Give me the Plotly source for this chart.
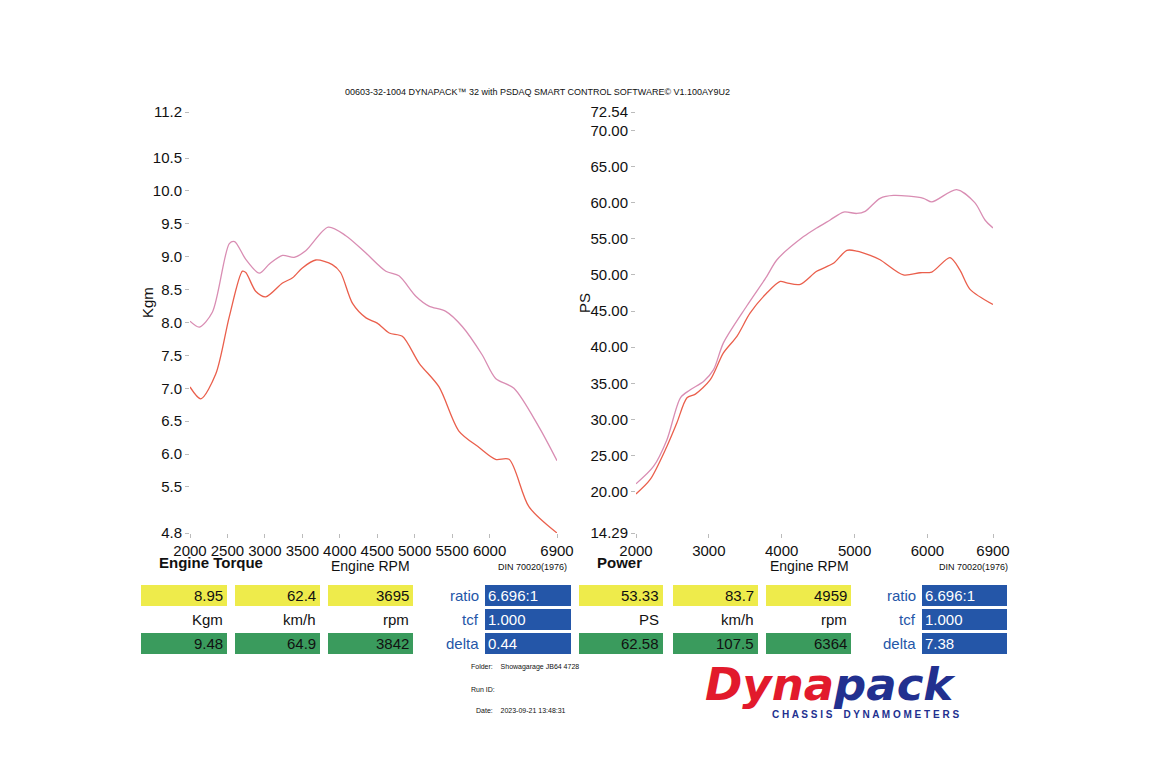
import plotly.graph_objects as go

W, H = 1150, 765

# torque (Kgm) vs rpm
tq_hi_rpm = [2000, 2125, 2300, 2525, 2595, 2745, 2925, 3060, 3235, 3390, 3545, 3845, 4080, 4345,
             4615, 4790, 5015, 5190, 5415, 5635, 5900, 6080, 6325, 6660, 6900]
tq_hi = [8.02, 7.93, 8.16, 9.2, 9.23, 8.96, 8.75, 8.89, 9.02, 8.99, 9.09, 9.45, 9.32, 9.06,
         8.78, 8.71, 8.40, 8.25, 8.17, 7.94, 7.51, 7.15, 7.0, 6.41, 5.9]
tq_lo_rpm = [2000, 2145, 2345, 2525, 2700, 2745, 2880, 3010, 3235, 3370, 3500, 3680, 3900, 4010,
             4170, 4350, 4500, 4660, 4835, 5060, 5325, 5590, 5860, 6080, 6260, 6525, 6900]
tq_lo = [7.02, 6.84, 7.22, 8.09, 8.78, 8.76, 8.47, 8.39, 8.60, 8.68, 8.83, 8.95, 8.88, 8.76,
         8.29, 8.07, 7.99, 7.84, 7.79, 7.38, 7.02, 6.35, 6.10, 5.92, 5.92, 5.2, 4.8]

# power (PS) vs rpm
pw_hi_rpm = [2000, 2240, 2425, 2610, 2745, 2930, 3065, 3200, 3520, 3795, 3935, 4300, 4480, 4665,
             4850, 5030, 5145, 5350, 5535, 5945, 6060, 6400, 6650, 6790, 6900]
pw_hi = [21.1, 23.5, 27.2, 33.0, 34.1, 35.3, 36.9, 40.6, 45.7, 49.8, 52.1, 55.3, 56.5, 57.6,
         58.7, 58.5, 58.8, 60.6, 61.0, 60.6, 60.1, 61.8, 60.0, 57.6, 56.5]
pw_lo_rpm = [2000, 2195, 2425, 2560, 2700, 2815, 3020, 3200, 3385, 3565, 3795, 3980, 4070, 4255,
             4480, 4710, 4895, 5030, 5215, 5350, 5670, 5900, 6060, 6310, 6445, 6585, 6900]
pw_lo = [19.7, 21.7, 26.3, 29.5, 33.0, 33.5, 35.5, 39.2, 41.5, 44.7, 47.5, 49.1, 48.9, 48.7,
         50.5, 51.6, 53.4, 53.3, 52.7, 52.1, 50.0, 50.3, 50.4, 52.4, 50.7, 48.0, 45.9]

tq_xticks = [2000, 2500, 3000, 3500, 4000, 4500, 5000, 5500, 6000, 6900]
tq_yticks = [4.8, 5.5, 6.0, 6.5, 7.0, 7.5, 8.0, 8.5, 9.0, 9.5, 10.0, 10.5, 11.2]
pw_xticks = [2000, 3000, 4000, 5000, 6000, 6900]
pw_yticks = [14.29, 20, 25, 30, 35, 40, 45, 50, 55, 60, 65, 70, 72.54]

tq_vals = ["8.95", "62.4", "3695"]
tq_units = ["Kgm", "km/h", "rpm"]
tq_delta_vals = ["9.48", "64.9", "3842"]
tq_side = ["6.696:1", "1.000", "0.44"]
pw_vals = ["53.33", "83.7", "4959"]
pw_units = ["PS", "km/h", "rpm"]
pw_delta_vals = ["62.58", "107.5", "6364"]
pw_side = ["6.696:1", "1.000", "7.38"]
side_names = ["ratio", "tcf", "delta"]

PINK = "#d98db3"
RED = "#ea5f4c"
YEL = "#eeeb4b"
GRN = "#3a9b5d"
BLU = "#2456a8"
FONT = "Liberation Sans, Arial"
NARROW = "Liberation Sans Narrow, Liberation Sans"

# page puts the plot 8px in from the corner, so pull everything back
OFF = 8


def px(x):
    return (x - OFF) / W


def py(y):
    return 1 - (y - OFF) / H


fig = go.Figure()
line = dict(shape="spline", smoothing=0.8, width=1.3)
fig.add_trace(go.Scatter(x=tq_hi_rpm, y=tq_hi, mode="lines", line=dict(color=PINK, **line), xaxis="x", yaxis="y"))
fig.add_trace(go.Scatter(x=tq_lo_rpm, y=tq_lo, mode="lines", line=dict(color=RED, **line), xaxis="x", yaxis="y"))
fig.add_trace(go.Scatter(x=pw_hi_rpm, y=pw_hi, mode="lines", line=dict(color=PINK, **line), xaxis="x2", yaxis="y2"))
fig.add_trace(go.Scatter(x=pw_lo_rpm, y=pw_lo, mode="lines", line=dict(color=RED, **line), xaxis="x2", yaxis="y2"))

ax = dict(showgrid=False, zeroline=False, showline=False, ticks="outside", ticklen=4,
          tickcolor="#bbbbbb", tickfont=dict(size=15, family=FONT, color="#111"))
fig.update_layout(
    width=W, height=H, margin=dict(l=0, r=0, t=0, b=0, autoexpand=False),
    paper_bgcolor="white", plot_bgcolor="white", showlegend=False,
    font=dict(family=FONT, color="#111"),
    xaxis=dict(domain=[px(190), px(557)], range=[2000, 6900], tickvals=tq_xticks, anchor="y", **ax),
    yaxis=dict(domain=[py(533), py(112)], range=[4.8, 11.2], tickvals=tq_yticks,
               ticktext=[f"{v:.1f}" for v in tq_yticks], anchor="x", **ax),
    xaxis2=dict(domain=[px(636), px(993)], range=[2000, 6900], tickvals=pw_xticks, anchor="y2", **ax),
    yaxis2=dict(domain=[py(533), py(112)], range=[14.29, 72.54], tickvals=pw_yticks,
                ticktext=[f"{v:.2f}" for v in pw_yticks], anchor="x2", **ax),
)


def note(x, y, text, size=13, color="#111", xanchor="left", angle=0, bold=False, family=FONT):
    if bold:
        text = f"<b>{text}</b>"
    fig.add_annotation(x=px(x), y=py(y), xref="paper", yref="paper", text=text, showarrow=False,
                       xanchor=xanchor, yanchor="middle", textangle=angle,
                       font=dict(size=size, color=color, family=family))


def box(x0, x1, y0, y1, color):
    fig.add_shape(type="rect", xref="paper", yref="paper", x0=px(x0), x1=px(x1), y0=py(y1), y1=py(y0),
                  fillcolor=color, line=dict(width=0), layer="below")


note(537, 92, "00603-32-1004 DYNAPACK™ 32 with PSDAQ SMART CONTROL SOFTWARE© V1.100AY9U2", size=9, xanchor="center")
note(148, 303, "Kgm", size=15, xanchor="center", angle=-90)
note(585, 303, "PS", size=15, xanchor="center", angle=-90)
note(157, 562, "Engine Torque", size=15, bold=True)
note(595, 562, "Power", size=15, bold=True)
note(370, 566, "Engine RPM", size=14, xanchor="center")
note(810, 566, "Engine RPM", size=14, xanchor="center")
note(569, 567, "DIN 70020(1976)", size=9, xanchor="right", family=NARROW)
note(1010, 567, "DIN 70020(1976)", size=9, xanchor="right", family=NARROW)

cols_l = [(141, 227), (235, 320), (328, 413)]
cols_r = [(579, 663), (673, 758), (766, 851)]
rows = [(585, 606), (609, 630), (633, 654)]


def panel(cols, vals, units, dvals, side, bx0, bx1):
    for (x0, x1), v, u, d in zip(cols, vals, units, dvals):
        box(x0, x1, *rows[0], YEL)
        box(x0, x1, *rows[2], GRN)
        note(x1 - 2, sum(rows[0]) / 2, v, size=15, xanchor="right")
        note(x1 - 2, sum(rows[1]) / 2, u, size=15, xanchor="right")
        note(x1 - 2, sum(rows[2]) / 2, d, size=15, xanchor="right")
    for (y0, y1), name, val in zip(rows, side_names, side):
        box(bx0, bx1, y0, y1, BLU)
        note(bx0 - 4, (y0 + y1) / 2, name, size=15, color=BLU, xanchor="right")
        note(bx0 + 1, (y0 + y1) / 2, val, size=15, color="white")


panel(cols_l, tq_vals, tq_units, tq_delta_vals, tq_side, 485, 571)
panel(cols_r, pw_vals, pw_units, pw_delta_vals, pw_side, 922, 1007)

note(469, 667, "Folder:&nbsp;&nbsp;&nbsp;&nbsp;Showagarage JB64 4728", size=7, family=NARROW)
note(469, 689, "Run ID:", size=7, family=NARROW)
note(474, 710, "Date:&nbsp;&nbsp;&nbsp;&nbsp;2023-09-21 13:48:31", size=7, family=NARROW)

# logo
note(830, 684, "<i><span style='color:#e21a2c'>Dyna</span><span style='color:#22308f'>pack</span></i>",
     size=45, xanchor="center", bold=True, family="DejaVu Sans")
note(865, 714, "C H A S S I S&nbsp;&nbsp;&nbsp;&nbsp;D Y N A M O M E T E R S", size=10, color="#22308f",
     xanchor="center", bold=True)

fig.write_html("out.html")
